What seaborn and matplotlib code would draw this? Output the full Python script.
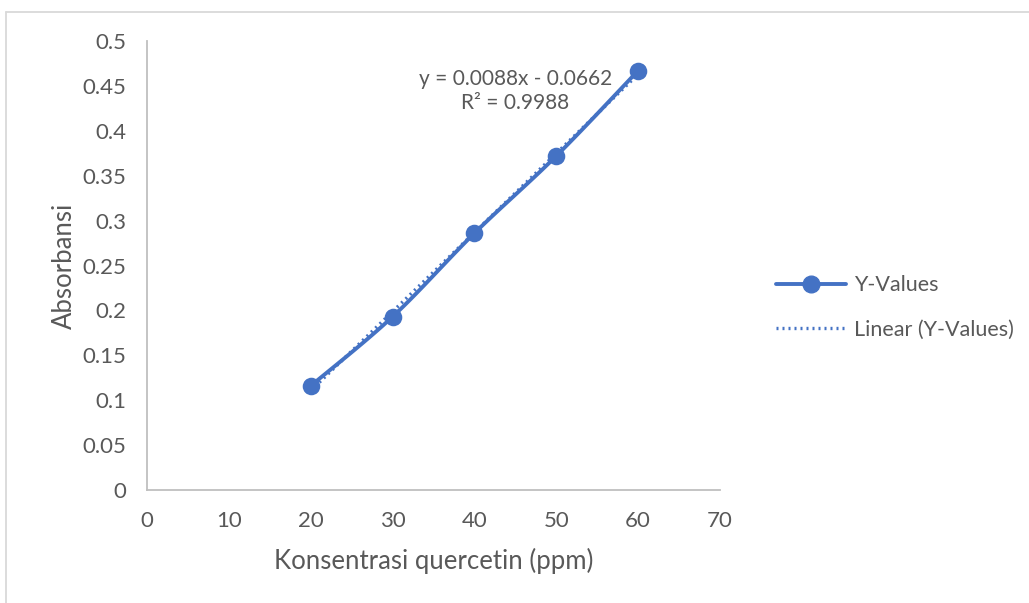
import matplotlib
matplotlib.use("Agg")
import matplotlib.pyplot as plt
from matplotlib.lines import Line2D
import seaborn as sns
import pandas as pd
import numpy as np

# data
konsentrasi = [20, 30, 40, 50, 60]
absorbansi = [0.116, 0.193, 0.286, 0.372, 0.467]
x_ticks = [0, 10, 20, 30, 40, 50, 60, 70]
y_ticks = [0, 0.05, 0.1, 0.15, 0.2, 0.25, 0.3, 0.35, 0.4, 0.45, 0.5]
y_tick_labels = ["0", "0.05", "0.1", "0.15", "0.2", "0.25", "0.3", "0.35", "0.4", "0.45", "0.5"]
eq_text = "y = 0.0088x - 0.0662\nR² = 0.9988"

blue = "#4472C4"
grey_txt = "#595959"
spine_col = "#BFBFBF"

sns.set_style("white")
plt.rcParams["font.family"] = ["Lato", "DejaVu Sans"]

df = pd.DataFrame({"x": konsentrasi, "y": absorbansi})


def smooth(xs, ys, n=30):
    # Catmull-Rom curve through the points, like Excel's smoothed line
    p = np.column_stack([xs, ys]).astype(float)
    p = np.vstack([p[0], p, p[-1]])
    out = []
    for i in range(1, len(p) - 2):
        p0, p1, p2, p3 = p[i - 1], p[i], p[i + 1], p[i + 2]
        t = np.linspace(0, 1, n)[:, None]
        seg = 0.5 * ((2 * p1) + (-p0 + p2) * t + (2 * p0 - 5 * p1 + 4 * p2 - p3) * t ** 2
                     + (-p0 + 3 * p1 - 3 * p2 + p3) * t ** 3)
        out.append(seg)
    out = np.vstack(out)
    return out[:, 0], out[:, 1]


fig = plt.figure(figsize=(10.29, 6.03), dpi=100)
ax = fig.add_axes([0.1429, 0.1874, 0.5568, 0.7446])

# trendline
slope, intercept = np.polyfit(konsentrasi, absorbansi, 1)
tx = np.array([min(konsentrasi), max(konsentrasi)])
ax.plot(tx, slope * tx + intercept, color=blue, lw=2.4, ls=(0, (0.6, 1.2)), zorder=2)

sx, sy = smooth(konsentrasi, absorbansi)
ax.plot(sx, sy, color=blue, lw=2.8, zorder=3, solid_capstyle="round")
sns.scatterplot(data=df, x="x", y="y", ax=ax, color=blue, s=160, edgecolor=blue,
                linewidth=0, zorder=4, legend=False)

ax.text(45, 0.444, eq_text, ha="center", va="center", fontsize=15, color=grey_txt,
        linespacing=1.25)

ax.set_xlim(0, 70)
ax.set_ylim(0, 0.5)
ax.set_xticks(x_ticks)
ax.set_yticks(y_ticks)
ax.set_yticklabels(y_tick_labels)
ax.tick_params(axis="both", direction="out", length=6, width=1.3, color=spine_col,
               labelsize=16, labelcolor=grey_txt)
ax.tick_params(axis="x", pad=9)
ax.tick_params(axis="y", pad=9)
for side in ["top", "right"]:
    ax.spines[side].set_visible(False)
for side in ["left", "bottom"]:
    ax.spines[side].set_color(spine_col)
    ax.spines[side].set_linewidth(1.3)

ax.set_xlabel("Konsentrasi quercetin (ppm)", fontsize=18.5, color=grey_txt, labelpad=12)
ax.set_ylabel("Absorbansi", fontsize=18.5, color=grey_txt, labelpad=4)

handles = [
    Line2D([], [], color=blue, lw=2.8, marker="o", markersize=12),
    Line2D([], [], color=blue, lw=2.4, ls=(0, (0.6, 1.2))),
]
fig.legend(handles, ["Y-Values", "Linear (Y-Values)"], loc="center left",
           bbox_to_anchor=(0.735, 0.49), frameon=False, fontsize=15.5,
           labelcolor=grey_txt, handlelength=3.25, handletextpad=0.4, labelspacing=1.15)

# chart area border (top and left visible)
fig.add_artist(Line2D([6 / 1029, 6 / 1029], [0, 1 - 12 / 603], transform=fig.transFigure,
                      color="#D9D9D9", lw=1.3))
fig.add_artist(Line2D([6 / 1029, 1], [1 - 12 / 603, 1 - 12 / 603], transform=fig.transFigure,
                      color="#D9D9D9", lw=1.3))

fig.savefig("out.png", dpi=100)
